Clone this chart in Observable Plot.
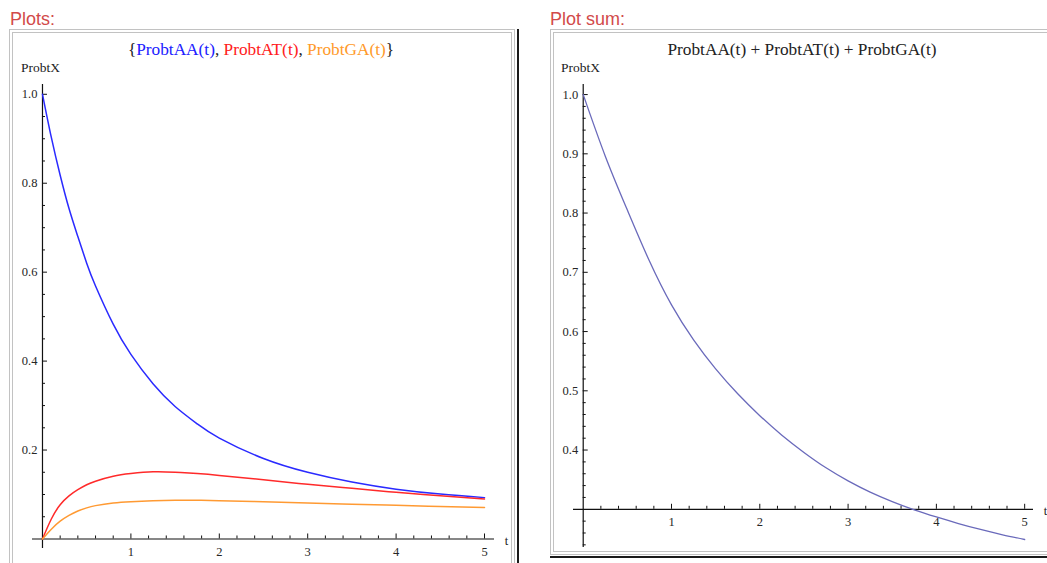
<!DOCTYPE html>
<html><head><meta charset="utf-8">
<script src="https://cdn.jsdelivr.net/npm/d3@7"></script>
<script src="https://cdn.jsdelivr.net/npm/@observablehq/plot@0.6"></script>
<style>
html,body{margin:0;padding:0;background:#fff;width:1047px;height:563px;overflow:hidden;position:relative;font-family:"Liberation Serif",serif;}
.lbl{position:absolute;font-family:"Liberation Sans",Arial,sans-serif;font-size:18px;line-height:1;color:#d24a4a;top:10px;white-space:nowrap;}
.shadow{position:absolute;border-right:2px solid #1a1a1a;border-bottom:2px solid #1a1a1a;}
.frame{position:absolute;border:4px double #c2c2c2;box-sizing:border-box;}
.title{position:absolute;font-size:17.3px;line-height:1;white-space:nowrap;transform:translateX(-50%);color:#222;top:41px;}
.ylab{position:absolute;font-size:13.5px;line-height:1;color:#222;top:60.5px;white-space:nowrap;}
.chart{position:absolute;top:40px;}
</style>
</head><body>
<div class="lbl" style="left:10px">Plots:</div>
<div class="lbl" style="left:550px">Plot sum:</div>
<div class="shadow" style="left:9px;top:29px;width:508px;height:620px"></div>
<div class="frame" style="left:9px;top:29px;width:506px;height:620px"></div>
<div class="shadow" style="left:550px;top:29px;width:506px;height:527px"></div>
<div class="frame" style="left:550px;top:29px;width:504px;height:526px"></div>
<div class="title" style="left:261px"><span>{</span><span style="color:#2020ff">ProbtAA(t)</span>, <span style="color:#ff2020">ProbtAT(t)</span>, <span style="color:#ff9a2a">ProbtGA(t)</span><span>}</span></div>
<div class="title" style="left:802px">ProbtAA(t) + ProbtAT(t) + ProbtGA(t)</div>
<div class="ylab" style="left:21px">ProbtX</div>
<div class="ylab" style="left:561px">ProbtX</div>
<div class="chart" id="left" style="left:0px;width:520px"></div>
<div class="chart" id="right" style="left:540px;width:507px"></div>
<script>
// ---- data ----
const tGrid = [0,0.1,0.2,0.3,0.4,0.5,0.6,0.8,1.0,1.25,1.5,1.75,2.0,2.5,3.0,3.5,4.0,4.5,5.0];
const probtAA = [1.000,0.903,0.818,0.743,0.680,0.620,0.569,0.483,0.415,0.349,0.298,0.259,0.227,0.181,0.150,0.128,0.112,0.101,0.093];
const probtAT = [0,0.045,0.077,0.097,0.111,0.122,0.130,0.141,0.147,0.151,0.150,0.147,0.143,0.133,0.123,0.114,0.105,0.097,0.090];
const probtGA = [0,0.022,0.040,0.053,0.063,0.070,0.075,0.081,0.084,0.086,0.087,0.087,0.086,0.084,0.081,0.078,0.076,0.073,0.071];

const tSum = [0,0.25,0.5,0.75,1.0,1.25,1.5,1.75,2.0,2.25,2.5,2.75,3.0,3.25,3.5,3.75,4.0,4.25,4.5,4.75,5.0];
const probtSum = [1.000,0.896,0.805,0.719,0.645,0.586,0.537,0.495,0.458,0.425,0.396,0.370,0.348,0.329,0.313,0.299,0.287,0.276,0.266,0.257,0.249];

const seriesNames = ["ProbtAA", "ProbtAT", "ProbtGA"];
const seriesColors = ["#2a2aff", "#ff2a2a", "#ff9a33"];
const sumColor = "#6a6abb";

// axes / ticks
const xMajorTicks = [1, 2, 3, 4, 5];
const xTickLabels = ["1", "2", "3", "4", "5"];
const yMajorLeft = [0.2, 0.4, 0.6, 0.8, 1.0];
const yLabelsLeft = ["0.2", "0.4", "0.6", "0.8", "1.0"];
const yMajorRight = [0.4, 0.5, 0.6, 0.7, 0.8, 0.9, 1.0];
const yLabelsRight = ["0.4", "0.5", "0.6", "0.7", "0.8", "0.9", "1.0"];
const xExtentLeft = [-0.113, 5.113];
const yExtentLeft = [-0.0214, 1.022];
const xExtentRight = [-0.11, 5.1];
const yExtentRight = [0.2355, 1.017];
const originLeft = [0, 0];
const originRight = [0, 0.3];

const xMinor = d3.range(1, 25).filter(i => i % 5 !== 0).map(i => i / 5);
const yMinorLeft = d3.range(1, 20).filter(i => i % 4 !== 0).map(i => i / 20);
const yMinorRight = d3.range(12, 50).filter(i => i % 5 !== 0).map(i => i / 50);

// ---- build tables ----
const leftData = [];
[probtAA, probtAT, probtGA].forEach((vals, k) => {
  vals.forEach((v, i) => leftData.push({series: seriesNames[k], t: tGrid[i], v}));
});
const sumData = probtSum.map((v, i) => ({t: tSum[i], v}));

const font = "Liberation Serif, Times New Roman, serif";
const axisColor = "#111";

function axisMarks(origin, xExt, yExt, xMaj, xLab, yMaj, yLab, yMin) {
  const [ox, oy] = origin;
  return [
    Plot.ruleY([oy], {x1: xExt[0], x2: xExt[1], stroke: axisColor, strokeWidth: 1.2}),
    Plot.ruleX([ox], {y1: yExt[0], y2: yExt[1], stroke: axisColor, strokeWidth: 1.2}),
    Plot.ruleX(xMinor, {x: d => d, y1: oy, y2: oy, insetTop: -3, stroke: axisColor, strokeWidth: 1}),
    Plot.ruleX(xMaj, {x: d => d, y1: oy, y2: oy, insetTop: -5, stroke: axisColor, strokeWidth: 1}),
    Plot.ruleY(yMin, {y: d => d, x1: ox, x2: ox, insetRight: -3, stroke: axisColor, strokeWidth: 1}),
    Plot.ruleY(yMaj, {y: d => d, x1: ox, x2: ox, insetRight: -5, stroke: axisColor, strokeWidth: 1}),
    Plot.text(xMaj, {x: d => d, y: oy, dy: 13, text: (d, i) => xLab[i], fill: "#262626", fontSize: 12.5}),
    Plot.text(yMaj, {x: ox, y: d => d, dx: -5, textAnchor: "end", text: (d, i) => yLab[i], fill: "#262626", fontSize: 12.5}),
    Plot.text(["t"], {x: xExt[1], y: oy, dx: 12, dy: 2, text: d => d, fill: "#222", fontSize: 12.5})
  ];
}

const leftPlot = Plot.plot({
  width: 520, height: 523,
  marginLeft: 32, marginRight: 26, marginTop: 44, marginBottom: 15,
  x: {domain: xExtentLeft, axis: null},
  y: {domain: yExtentLeft, axis: null},
  color: {domain: seriesNames, range: seriesColors},
  style: {background: "transparent", overflow: "visible", fontFamily: font, maxWidth: "none"},
  marks: [
    ...axisMarks(originLeft, xExtentLeft, yExtentLeft, xMajorTicks, xTickLabels, yMajorLeft, yLabelsLeft, yMinorLeft),
    Plot.line(leftData, {x: "t", y: "v", z: "series", stroke: "series", strokeWidth: 1.5, curve: "natural"})
  ]
});
document.getElementById("left").appendChild(leftPlot);

const rightPlot = Plot.plot({
  width: 507, height: 523,
  marginLeft: 33, marginRight: 14, marginTop: 44, marginBottom: 16,
  x: {domain: xExtentRight, axis: null},
  y: {domain: yExtentRight, axis: null},
  style: {background: "transparent", overflow: "visible", fontFamily: font, maxWidth: "none"},
  marks: [
    ...axisMarks(originRight, xExtentRight, yExtentRight, xMajorTicks, xTickLabels, yMajorRight, yLabelsRight, yMinorRight),
    Plot.line(sumData, {x: "t", y: "v", stroke: sumColor, strokeWidth: 1.3, curve: "natural"})
  ]
});
document.getElementById("right").appendChild(rightPlot);
</script>
</body></html>
